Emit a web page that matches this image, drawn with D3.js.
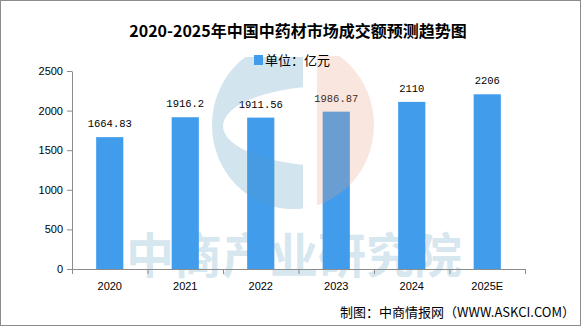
<!DOCTYPE html>
<html>
<head>
<meta charset="utf-8">
<script src="https://cdn.jsdelivr.net/npm/d3@7"></script>
<style>
  body { margin: 0; background: #fff; }
  svg text { font-family: "Liberation Sans", Arial, sans-serif; }
  .cjk { font-family: "Noto Sans CJK SC", sans-serif; }
  .axis path, .axis line { stroke: #8c8c8c; }
  .axis text { font-size: 11px; fill: #000; }
</style>
</head>
<body>
<div id="chart"></div>
<script>
const categories = ['2020', '2021', '2022', '2023', '2024', '2025E'];
const values = [1664.83, 1916.2, 1911.56, 1986.87, 2110, 2206];
const labels = ['1664.83', '1916.2', '1911.56', '1986.87', '2110', '2206'];
const yTicks = [0, 500, 1000, 1500, 2000, 2500];

function barChart() {
    let margin = {top: 71, right: 63, bottom: 58, left: 72},
        width = 588,
        height = 327;

    function chart(selector, data) {
        const w = width - margin.left - margin.right,
              h = height - margin.top - margin.bottom;

        const root = d3.select(selector)
            .append('svg')
            .attr('width', width)
            .attr('height', height);

        // outer frame
        root.append('rect')
            .attr('x', 0.5).attr('y', 0.5)
            .attr('width', 580).attr('height', 325)
            .attr('fill', '#fff')
            .attr('stroke', '#8c8c8c');

        const svg = root.append('g')
            .attr('transform', `translate(${margin.left},${margin.top})`);

        // scales
        const yScale = d3.scaleLinear([0, 2500], [h, 0]);
        const xScale = d3.scaleBand()
            .domain(data.map(d => d.year))
            .range([0, w])
            .paddingInner(0.64)
            .paddingOuter(0.32);

        // watermark text sits behind the bars
        svg.append('text')
            .attr('class', 'cjk')
            .attr('x', 294 - margin.left)
            .attr('y', 273 - margin.top)
            .attr('text-anchor', 'middle')
            .style('font-size', '48px')
            .style('font-weight', 'bold')
            .attr('fill', '#5a9cc0')
            .attr('opacity', 0.24)
            .text('中商产业研究院');

        // bars
        svg.selectAll('.bar')
            .data(data)
            .enter()
            .append('rect')
            .attr('class', 'bar')
            .attr('x', d => xScale(d.year))
            .attr('y', d => yScale(d.value))
            .attr('width', xScale.bandwidth())
            .attr('height', d => h - yScale(d.value))
            .style('fill', '#419cec');

        // value labels
        svg.selectAll('.label')
            .data(data)
            .enter()
            .append('text')
            .attr('class', 'label')
            .attr('x', d => xScale(d.year) + xScale.bandwidth() / 2)
            .attr('y', d => yScale(d.value) - 10)
            .attr('text-anchor', 'middle')
            .style('font-family', '"Liberation Mono", monospace')
            .style('font-size', '10.5px')
            .text(d => d.label);

        // axes
        const xAxis = d3.axisBottom(xScale).tickSize(0);
        const xAxisDraw = svg.append('g')
            .attr('class', 'x axis')
            .attr('transform', `translate(0,${h})`)
            .call(xAxis);
        xAxisDraw.selectAll('text').attr('dy', '1.6em');
        // ticks between categories
        const step = xScale.step();
        xAxisDraw.selectAll('.sep')
            .data(d3.range(categories.length + 1))
            .enter()
            .append('line')
            .attr('class', 'sep')
            .attr('x1', i => i * step + 0.5)
            .attr('x2', i => i * step + 0.5)
            .attr('y1', 0)
            .attr('y2', 5);

        const yAxis = d3.axisLeft(yScale)
            .tickValues(yTicks)
            .tickFormat(d3.format(''))
            .tickSizeInner(5)
            .tickSizeOuter(0)
            .tickPadding(4);
        svg.append('g')
            .attr('class', 'y axis')
            .call(yAxis);

        // watermark logo, drawn over the bars
        const cx = 293 - margin.left, cy = 125 - margin.top;
        const defs = root.append('defs');
        defs.append('clipPath').attr('id', 'clipBlue')
            .append('rect')
            .attr('x', 0).attr('y', 57 - margin.top)
            .attr('width', 303 - margin.left).attr('height', 200);
        defs.append('clipPath').attr('id', 'clipPeach')
            .append('rect')
            .attr('x', 317 - margin.left).attr('y', 56 - margin.top)
            .attr('width', 100).attr('height', 200);

        const ell = (x, y, rx, ry) =>
            `M${x - rx},${y}a${rx},${ry} 0 1,0 ${2 * rx},0a${rx},${ry} 0 1,0 ${-2 * rx},0Z`;

        svg.append('path')
            .attr('d', ell(cx, cy, 81, 84) + ell(330 - margin.left, 126 - margin.top, 107, 40))
            .attr('fill-rule', 'evenodd')
            .attr('clip-path', 'url(#clipBlue)')
            .attr('fill', '#5a9cc0')
            .attr('opacity', 0.27);

        svg.append('path')
            .attr('d', ell(cx, cy, 81, 84))
            .attr('clip-path', 'url(#clipPeach)')
            .attr('fill', '#e8a080')
            .attr('opacity', 0.25);

        // header
        root.append('text')
            .attr('class', 'cjk')
            .attr('x', 298)
            .attr('y', 37)
            .attr('text-anchor', 'middle')
            .style('font-size', '16px')
            .style('font-weight', 'bold')
            .text('2020-2025年中国中药材市场成交额预测趋势图');

        // legend
        root.append('rect')
            .attr('x', 254).attr('y', 55)
            .attr('width', 9).attr('height', 10)
            .attr('fill', '#419cec');
        root.append('text')
            .attr('class', 'cjk')
            .attr('x', 265)
            .attr('y', 64.5)
            .style('font-size', '13px')
            .text('单位：亿元');

        // source
        root.append('text')
            .attr('class', 'cjk')
            .attr('x', 575)
            .attr('y', 317)
            .attr('text-anchor', 'end')
            .style('font-size', '13px')
            .text('制图：中商情报网（WWW.ASKCI.COM）');
    }

    chart.width = function(_) {
        if (!arguments.length) return width;
        width = _;
        return chart;
    };

    chart.height = function(_) {
        if (!arguments.length) return height;
        height = _;
        return chart;
    };

    return chart;
}

const data = categories.map((c, i) => ({year: c, value: values[i], label: labels[i]}));
barChart()('#chart', data);
</script>
</body>
</html>
